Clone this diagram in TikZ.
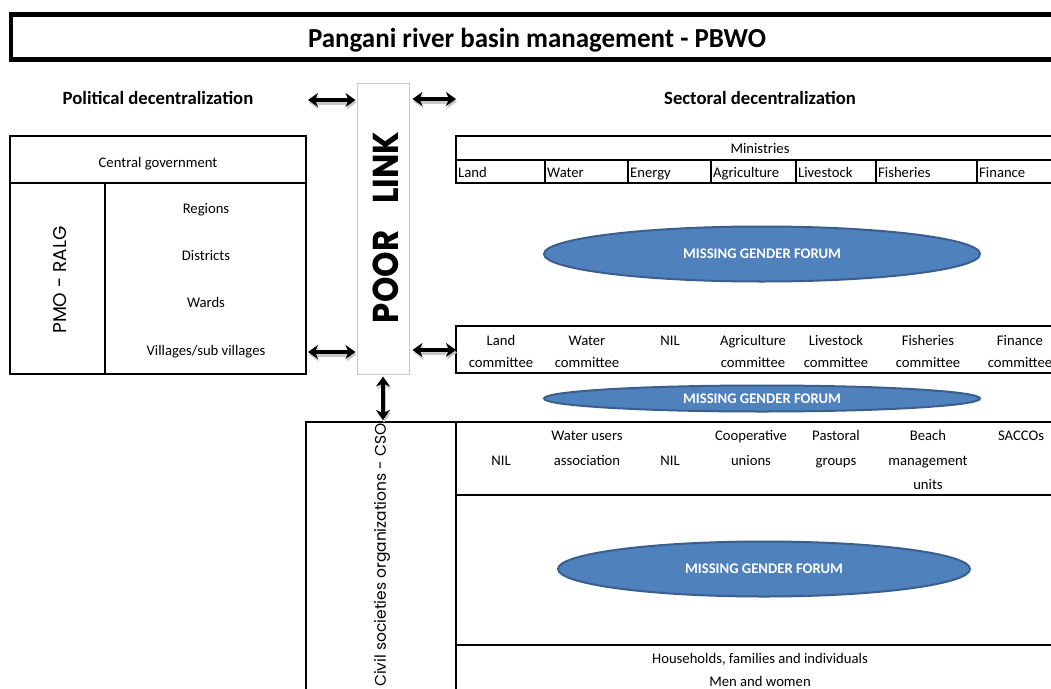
\documentclass[tikz,border=0pt]{standalone}
\usepackage{fontspec}
\setmainfont{Carlito}
\newfontfamily\cg{Poppins}
\usetikzlibrary{shapes.geometric,arrows.meta}
\definecolor{forumfill}{HTML}{4F81BD}
\definecolor{forumline}{HTML}{3A5F8E}
\definecolor{linkgray}{HTML}{C8C8C8}
\begin{document}
\begin{tikzpicture}[x=1pt,y=-1pt,
  tab/.style={draw=black,line width=2pt},
  txt/.style={inner sep=0pt,anchor=base,font=\fontsize{14.67}{16}\selectfont},
  ltxt/.style={txt,anchor=base west},
  head/.style={inner sep=0pt,anchor=base,font=\bfseries\fontsize{18.7}{20}\selectfont},
  forum/.style={ellipse,draw=forumline,line width=2pt,fill=forumfill,text=white,
    font=\bfseries\fontsize{14.67}{16}\selectfont,inner sep=0pt},
  dbl/.style={line width=3.2pt,
    arrows={Stealth[length=10pt,width=14pt,inset=3pt]-Stealth[length=10pt,width=14pt,inset=3pt]},
    preaction={draw=black!22,line width=4.5pt,transform canvas={shift={(1pt,-2.5pt)}}}},
  ]
\clip (0,0) rectangle (1051,688);
\fill[white] (0,0) rectangle (1051,688);

% title
\draw[line width=4.5pt] (11,14.5) rectangle (1080,59.5);
\node[inner sep=0pt,anchor=base,font=\bfseries\fontsize{27.5}{30}\selectfont] (title) at (537,47)
  {\scalebox{0.98}[1]{Pangani river basin management - PBWO}};

% headers
\node[head] (pol) at (158,104) {Political decentralization};
\node[head] (sec) at (760,104) {Sectoral decentralization};

% poor link box
\node[draw=linkgray,line width=1pt,fill=white,minimum width=52pt,minimum height=291pt,inner sep=0pt] (link) at (383,228.5) {};
\node[rotate=90,inner sep=0pt,font=\cg\bfseries\fontsize{36}{36}\selectfont] (poor) at (385.5,227.5)
  {\scalebox{0.9}[1]{POOR\hspace{30pt}LINK}};

% left table
\draw[tab] (10,136) rectangle (306,374);
\draw[tab] (10,183) -- (306,183);
\draw[tab] (105,183) -- (105,374);
\node[txt] (cg) at (158,167) {Central government};
\node[rotate=90,inner sep=0pt,font=\cg\fontsize{18.5}{20}\selectfont] (pmo) at (60,280) {PMO - RALG};
\node[txt] (reg) at (206,213) {Regions};
\node[txt] (dis) at (206,260) {Districts};
\node[txt] (war) at (206,307) {Wards};
\node[txt] (vil) at (206,355) {Villages/sub villages};

% ministries table
\draw[tab] (456,136) rectangle (1080,183);
\draw[line width=1.5pt] (456,160) -- (1080,160);
\foreach \xx in {545,628,711,796,876,977}{\draw[line width=1.5pt] (\xx,160) -- (\xx,183);}
\node[txt] (min) at (760,153) {Ministries};
\foreach \xx/\t/\n in {458/Land/m1,547/Water/m2,630/Energy/m3,713/Agriculture/m4,798/Livestock/m5,878/Fisheries/m6,979/Finance/m7}
  {\node[ltxt] (\n) at (\xx,177) {\t};}

% forum 1
\node[forum,minimum width=436pt,minimum height=55pt] (f1) at (762,254) {MISSING GENDER FORUM};

% committee row
\draw[tab] (456,326) rectangle (1080,373);
\foreach \xx/\a/\b/\n in {501/Land/committee/c1,587/Water/committee/c2,670/NIL//c3,753/Agriculture/committee/c4,836/Livestock/committee/c5,928/Fisheries/committee/c6,1020/Finance/committee/c7}
  {\node[txt] (\n a) at (\xx,345) {\a};
   \node[txt] (\n b) at (\xx,367) {\b};}

% forum 2
\node[forum,minimum width=436pt,minimum height=26pt] (f2) at (762,398.5) {\raisebox{-3pt}{MISSING GENDER FORUM}};

% CSO table
\draw[tab] (306,422) rectangle (1080,720);
\draw[tab] (456,422) -- (456,720);
\draw[tab] (456,495) -- (1080,495);
\draw[tab] (456,645) -- (1080,645);
\coordinate (csotop) at (383,421);
\node[rotate=90,anchor=east,inner sep=0pt,font=\cg\fontsize{15.5}{16}\selectfont] (cso) at (382,423)
  {Civil societies organizations - CSO};
\node[txt] (s1) at (501,465) {NIL};
\node[txt] (s2a) at (587,440) {Water users};
\node[txt] (s2b) at (587,465) {association};
\node[txt] (s3) at (670,465) {NIL};
\node[txt] (s4a) at (751,440) {Cooperative};
\node[txt] (s4b) at (751,465) {unions};
\node[txt] (s5a) at (836,440) {Pastoral};
\node[txt] (s5b) at (836,465) {groups};
\node[txt] (s6a) at (928,440) {Beach};
\node[txt] (s6b) at (928,465) {management};
\node[txt] (s6c) at (928,489) {units};
\node[txt] (s7) at (1021,440) {SACCOs};

% forum 3
\node[forum,minimum width=412pt,minimum height=55pt] (f3) at (764,569) {MISSING GENDER FORUM};

\node[txt] (hh) at (760,663) {Households, families and individuals};
\node[txt] (mw) at (760,686) {Men and women};

% arrows
\coordinate (a1) at (308,100);
\coordinate (a2) at (456,99);
\coordinate (a3) at (308,352);
\coordinate (a4) at (456,350);
\draw[dbl,shorten >=1pt] (a1) -- (a1 -| link.west);
\draw[dbl,shorten <=3pt] (a2 -| link.east) -- (a2);
\draw[dbl,shorten >=1pt] (a3) -- (a3 -| link.west);
\draw[dbl,shorten <=3pt] (a4 -| link.east) -- (a4);
\draw[dbl,shorten <=2pt,shorten >=1pt] (link.south) -- (csotop);
\end{tikzpicture}
\end{document}
